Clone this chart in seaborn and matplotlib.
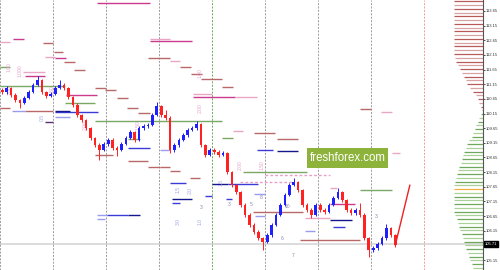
import numpy as np
import matplotlib
matplotlib.use("Agg")
import matplotlib.pyplot as plt
from matplotlib.patches import Rectangle
import seaborn as sns
import pandas as pd

# ---------------- data ----------------
first_open = 110.95
closes = [110.88,111.02,110.78,110.61,110.51,110.68,110.88,111.12,111.29,110.88,
          110.75,110.82,111.02,111.12,111.02,110.71,110.44,110.10,109.93,109.66,
          109.31,109.08,108.91,109.11,109.25,108.97,108.91,109.11,109.31,109.52,
          109.25,109.66,109.72,109.76,110.10,110.41,110.10,110.00,108.91,109.08,
          109.25,109.42,109.59,109.66,109.79,109.08,108.74,108.91,108.84,108.74,
          108.80,108.15,107.71,107.47,107.03,106.69,106.35,106.11,105.90,105.77,
          106.00,106.35,106.69,107.03,107.37,107.71,107.81,107.54,107.03,106.86,
          106.69,107.03,106.86,106.79,107.03,107.27,107.47,107.20,106.86,106.75,
          106.86,106.69,105.90,105.49,105.56,105.70,105.90,106.24,106.00,105.66]
highs = [111.02,111.09,111.06,110.85,110.66,110.75,110.95,111.20,111.43,111.33,
         110.92,110.90,111.08,111.29,111.18,111.06,110.76,110.50,110.15,109.98,
         109.70,109.36,109.14,109.18,109.33,109.30,109.03,109.17,109.37,109.60,
         109.56,109.72,109.80,109.84,110.18,110.54,110.45,110.27,110.05,109.14,
         109.31,109.48,109.66,109.74,109.90,109.84,109.12,108.98,108.97,108.90,
         108.86,108.84,108.20,107.76,107.52,107.08,106.74,106.40,106.16,105.95,
         106.06,106.41,106.75,107.09,107.43,107.78,107.95,107.86,107.59,107.08,
         106.92,107.10,107.08,106.92,107.09,107.33,107.61,107.52,107.25,106.91,
         106.92,107.10,106.74,105.95,105.63,105.76,105.96,106.38,106.29,106.05]
lows = [110.80,110.82,110.71,110.54,110.34,110.46,110.63,110.84,111.08,110.80,
        110.68,110.70,110.78,110.98,110.95,110.65,110.38,110.02,109.86,109.58,
        109.24,109.00,108.56,108.86,109.05,108.90,108.70,108.87,109.06,109.27,
        109.18,109.20,109.60,109.66,109.72,110.05,110.02,109.94,108.80,108.85,
        109.02,109.20,109.36,109.54,109.60,109.02,108.66,108.70,108.78,108.68,
        108.69,108.08,107.64,107.40,106.96,106.62,106.28,106.04,105.82,105.49,
        105.72,105.95,106.30,106.64,106.98,107.32,107.66,107.47,106.96,106.79,
        106.60,106.64,106.80,106.72,106.74,106.98,107.22,107.14,106.80,106.69,
        106.70,106.62,105.84,105.25,105.42,105.50,105.65,105.85,105.94,105.59]

candles_per_day = 12
n_days = 9
proj_x = [89.5, 92.8]
proj_p = [105.66, 107.71]
current_price = 105.71

# horizontal level segments: start, end (in candle units), price, kind
seg_x0 = [22.0,0.0,2.9,9.7,12.2,10.2,12.5,14.5,16.8,0.0,5.2,5.7,0.0,21.5,23.8,14.9,26.5,14.7,28.8,12.5,
          12.5,2.7,5.7,0.0,21.5,12.5,10.2,31.2,34.0,34.0,33.5,38.5,40.8,43.2,45.5,50.3,43.7,43.7,53.2,52.8,
          57.5,81.5,86.3,29.0,33.5,21.5,29.0,29.0,36.2,22.0,24.2,29.0,22.0,50.3,58.2,62.7,62.7,36.2,38.5,43.0,
          55.0,38.5,48.0,51.6,38.9,38.9,46.4,51.2,57.5,57.7,57.3,69.1,67.9,69.1,88.8,79.2,81.5,74.7,74.7,74.7,
          75.4,54.3,60.0]
seg_x1 = [34.0,2.3,5.4,12.0,14.3,12.5,14.9,17.0,19.2,2.3,10.2,10.2,14.7,24.0,26.3,22.0,29.0,21.5,31.2,22.2,
          15.8,5.7,12.0,2.3,50.3,15.8,12.0,34.0,43.5,38.5,38.5,40.8,43.2,45.7,50.3,52.8,48.0,53.2,58.2,55.0,
          62.3,84.0,88.8,34.0,36.2,25.6,31.7,33.5,38.5,24.2,29.0,31.7,23.8,52.8,61.8,67.5,67.5,38.5,40.8,45.3,
          69.5,42.1,51.6,58.4,43.5,40.8,48.0,52.5,60.0,60.0,68.6,74.7,81.5,71.3,90.6,81.5,88.8,76.3,80.4,79.7,
          78.1,66.3,74.7]
seg_p = [113.92,112.59,112.69,112.56,112.25,112.08,112.05,111.91,111.64,111.74,111.57,111.43,111.09,111.02,110.95,110.78,110.68,110.51,110.34,110.20,
         110.24,110.24,110.24,110.34,109.90,110.03,109.86,110.17,112.63,112.69,112.05,111.94,111.74,111.50,111.33,111.06,110.82,110.71,110.71,109.55,
         109.49,110.30,110.20,108.97,108.33,108.74,109.28,108.53,108.91,106.69,106.69,106.69,106.55,109.31,108.91,108.87,109.28,108.33,108.19,107.95,
         108.15,107.78,107.74,107.74,107.23,107.10,107.33,107.23,107.40,106.65,106.79,106.58,105.83,106.14,108.80,108.39,107.54,107.61,107.06,106.52,
         106.28,107.81,108.05]
seg_kind = ["mag","pnk","mag","brn","brn","pnk","mag","brn","brn","grn","pnk","mag","grn","brn","brn","mag","brn","grn","brn","blu",
            "nvy","lbl","brn","brn","grn","lbl","pur","brn","mag","pnk","brn","pnk","brn","brn","brn","brn","pnk","mag","pnk","pnk",
            "brn","brn","pnk","blu","brn","brn","grn","brn","lbl","lbl","blu","nvy","lbl","grn","blu","nvy","brn","brn","brn","brn",
            "grn","blu","nvy","blu","nvy","blu","blu","blu","lbl","lbl","brn","pnk","brn","lbl","pnk","brn","grn","pnk","mag","nvy",
            "blu","pdash","pdash"]

# small annotation labels
lab_x = [4.5,2.0,2.3,11.8,19.2,31.2,45.3,45.3,54.3,59.3,9.5,40.3,43.0,40.3,45.3,50.0,
         51.8,56.8,59.1,65.0,63.8,66.3,85.1,45.5]
lab_p = [111.63,111.74,110.95,110.95,109.76,109.76,111.53,110.34,108.39,108.39,110.00,107.54,107.54,106.45,106.45,107.78,
         107.06,107.06,107.30,106.99,105.90,105.32,106.62,106.96]
lab_text = ["1.000","1.00","2.00","1.50","2.00","1.50","1.00","2.00","2.00","1.50","0.5","1.5","2.0","3.0","1.0","1.5",
            "3","5","8","10","6","7","3","3"]
lab_kind = ["p","p","p","p","p","p","p","p","p","p","b","b","b","b","b","b",
            "d","d","d","d","d","d","d","d"]

# volume profile (length of each bar, top level first)
profile_top = 113.974
profile_step = 0.128
profile_vol = [29,29,29,29,29,29,29,29,29,29,29,29,29,29,29,28,27,25,23,21,
               19.5,17.5,16,13,10.5,7.5,5.5,4,2.5,1.5,2,4,5.5,7,8.5,10,11.5,14,16,17,
               19,20,21,22,24,25,26,27,28,29,29,29,29,29,29,29,29,28,26,25,
               24,23,21,20,19,18,17,15,14,13,11,10]
profile_split = 30      # first index of lower (green) part
profile_poc = 50

tick_vals = [113.65,113.15,112.65,112.15,111.65,111.15,110.65,110.15,109.65,109.15,
             108.65,108.15,107.65,107.15,106.65,106.15,105.15]
tick_labels = ["113.65","113.15","112.65","112.15","111.65","111.15","110.65","110.15","109.65","109.15",
               "108.65","108.15","107.65","107.15","106.65","106.15","105.15"]

# ---------------- style ----------------
sns.set_theme(style="white")
plt.rcParams['font.family'] = ['Liberation Sans', 'DejaVu Sans']

kind_color = {"mag": "#cc3a8e", "pnk": "#e8a6c4", "brn": "#b86868", "grn": "#7aa865",
              "blu": "#3a3ad8", "lbl": "#9a9cf0", "nvy": "#16168c", "pur": "#5a2f7a",
              "pdash": "#e8a0c8"}
lab_color = {"p": "#e9a3cf", "b": "#a0a8e8", "d": "#8a8ab0"}

fig = plt.figure(figsize=(5.0, 2.7), dpi=100)
ax = fig.add_axes([0, 0, 483/500, 1])
fig.patch.set_facecolor("white")
ax.set_facecolor("white")

xmax = 483 * candles_per_day / 53
ax.set_xlim(0, xmax)
ax.set_ylim(104.81, 114.025)

# current price line
ax.axhline(current_price, color="#dcdcdc", lw=1.4, zorder=1)

# day separators
for d in range(n_days):
    xv = d * candles_per_day
    col = "#9a9a9a"
    if d == 4:
        col = "#6aa85a"
    if d == 8:
        col = "#f29a9a"
    ax.axvline(xv + 0.05, color=col, lw=0.7, ls=(0, (2, 1.5)), zorder=1)

# level segments
for x0, x1, p, k in zip(seg_x0, seg_x1, seg_p, seg_kind):
    ls = (0, (2, 1.5)) if k == "pdash" else "-"
    ax.hlines(p, x0, x1, color=kind_color[k], lw=1.0, ls=ls, zorder=2)

# labels
for x, p, t, k in zip(lab_x, lab_p, lab_text, lab_kind):
    rot = 90 if k in ("p", "b") else 0
    ax.text(x, p, t, fontsize=3.6, color=lab_color[k], rotation=rot,
            ha="center", va="center", zorder=2)

# candles
df = pd.DataFrame({"close": closes, "high": highs, "low": lows})
df["open"] = [first_open] + closes[:-1]
df["x"] = np.arange(len(df)) + 0.5
df["bull"] = df["close"] >= df["open"]
colors = np.where(df["bull"], "#2020ff", "#ff2222")
ax.vlines(df["x"], df["low"], df["high"], colors=colors, lw=0.7, zorder=3)
body_h = (df["close"] - df["open"]).abs().clip(lower=0.02)
ax.bar(df["x"], body_h, bottom=df[["open", "close"]].min(axis=1),
       width=0.62, color=colors, linewidth=0, zorder=4)

# projection line
sns.lineplot(x=proj_x, y=proj_p, ax=ax, color="#ee2222", lw=1.0, zorder=5)

# volume profile
vol_scale = candles_per_day / 53
for i, v in enumerate(profile_vol):
    p = profile_top - i * profile_step
    if i < profile_split:
        col = "#b85a5a" if i % 2 == 0 else "#d9a3a3"
    else:
        col = "#6ea85c" if i % 2 == 0 else "#a9d199"
    if i == profile_poc:
        col = "#f0b040"
    ax.hlines(p, xmax - v * vol_scale, xmax, color=col, lw=0.9, zorder=2)

# watermark
wx0, wx1 = 307 * vol_scale, 388 * vol_scale
wy0, wy1 = 108.29, 108.97
ax.add_patch(Rectangle((wx0, wy0), wx1 - wx0, wy1 - wy0, facecolor="#8db33a",
                       edgecolor="none", zorder=6))
ax.text((wx0 + wx1) / 2, (wy0 + wy1) / 2, "freshforex.com", color="white",
        fontsize=8.3, family="Liberation Sans", ha="center", va="center", zorder=7)

# axes / ticks
for s in ["left", "top", "bottom"]:
    ax.spines[s].set_visible(False)
ax.spines["right"].set_color("#555555")
ax.spines["right"].set_linewidth(0.8)
ax.set_xticks([])
ax.yaxis.tick_right()
ax.set_yticks(tick_vals)
ax.set_yticklabels(tick_labels)
ax.tick_params(axis="y", right=True, length=1.5, width=0.6, pad=0.6, labelsize=3.0,
               colors="#333333")
ax.grid(False)

ax.annotate(f"{current_price:.2f}", xy=(1.0, current_price),
            xycoords=("axes fraction", "data"), xytext=(1.2, 0),
            textcoords="offset points", fontsize=3.0, color="white",
            ha="left", va="center",
            bbox=dict(boxstyle="square,pad=0.25", fc="black", ec="black"),
            annotation_clip=False)

fig.savefig("out.png", dpi=100)
